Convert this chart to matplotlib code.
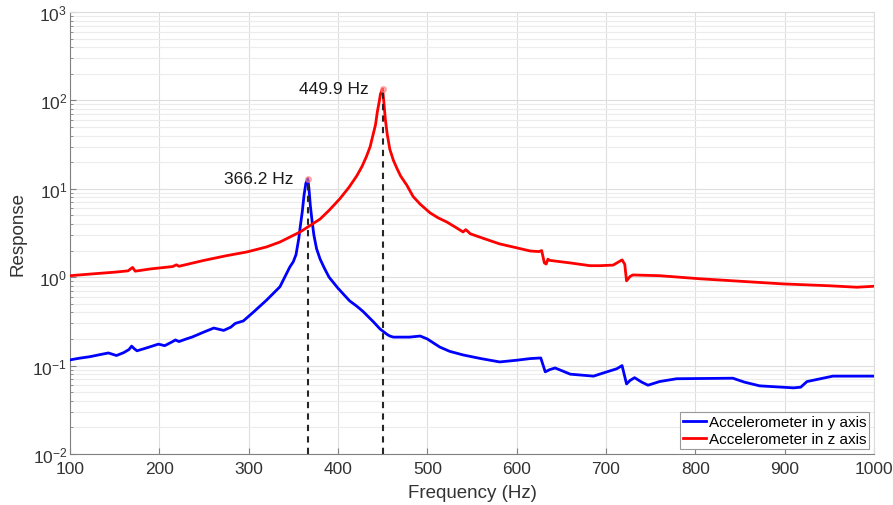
import numpy as np
import matplotlib.pyplot as plt
from matplotlib.ticker import LogLocator, NullFormatter

plt.rcParams['font.family'] = ['Liberation Sans', 'DejaVu Sans']
plt.rcParams['font.size'] = 12

# accelerometer in y axis
freq_y = [100, 110, 122, 135, 143, 152, 160, 166, 169, 172, 175, 187, 199, 206,
          214, 218, 222, 230, 237, 250, 261, 272, 280, 285, 294, 305, 320, 335,
          346, 350, 353, 356, 358, 360, 362, 364, 366.2, 367.5, 369, 371, 373,
          376, 380, 385, 390, 400, 413, 421, 428, 440, 447, 455, 458, 462, 480,
          492, 500, 514, 525, 540, 560, 581, 600, 615, 627, 632, 637, 643, 650,
          660, 686, 701, 712, 718, 723, 727, 732, 740, 747, 760, 779, 842, 855,
          872, 910, 918, 925, 954, 998, 1000]
resp_y = [0.116, 0.121, 0.126, 0.134, 0.139, 0.130, 0.140, 0.152, 0.166, 0.155,
          0.147, 0.160, 0.175, 0.168, 0.185, 0.195, 0.187, 0.200, 0.211, 0.240,
          0.266, 0.250, 0.272, 0.300, 0.320, 0.40, 0.55, 0.78, 1.3, 1.5, 1.8,
          2.7, 3.9, 5.5, 8.5, 11.5, 13.0, 10.0, 6.5, 4.3, 3.0, 2.1, 1.6, 1.25,
          1.0, 0.75, 0.54, 0.47, 0.41, 0.31, 0.26, 0.225, 0.216, 0.21, 0.21,
          0.216, 0.20, 0.162, 0.145, 0.132, 0.12, 0.11, 0.115, 0.12, 0.122,
          0.085, 0.09, 0.094, 0.088, 0.080, 0.076, 0.085, 0.092, 0.10, 0.062,
          0.068, 0.073, 0.065, 0.060, 0.066, 0.071, 0.072, 0.065, 0.059, 0.056,
          0.057, 0.066, 0.076, 0.076, 0.076]

# accelerometer in z axis
freq_z = [100, 130, 150, 165, 170, 173, 190, 215, 219, 222, 250, 275, 298, 320,
          335, 357.6, 380, 390, 402, 412, 421, 427, 432, 436, 439, 442, 444, 446,
          447.5, 449.9, 451, 453, 455, 458, 462, 466, 470, 477, 484, 492, 503,
          512, 522, 532, 540, 543, 546, 548, 565, 581, 600, 615, 625, 628, 631,
          633, 635, 637, 660, 682, 693, 708, 718, 721, 723, 727, 730, 760, 805,
          850, 898, 950, 981, 1000]
resp_z = [1.04, 1.10, 1.14, 1.18, 1.29, 1.17, 1.24, 1.32, 1.38, 1.33, 1.55, 1.75,
          1.93, 2.2, 2.5, 3.25, 4.55, 5.7, 7.7, 10.3, 14, 18, 23.4, 30, 40, 53,
          74, 95, 118, 135, 104, 61, 42, 28, 21, 17, 14, 11.0, 8.2, 6.7, 5.35,
          4.7, 4.2, 3.65, 3.25, 3.45, 3.25, 3.1, 2.7, 2.38, 2.15, 1.98, 1.95,
          2.0, 1.45, 1.41, 1.6, 1.55, 1.45, 1.35, 1.35, 1.37, 1.57, 1.4, 0.91,
          1.02, 1.06, 1.04, 0.96, 0.9, 0.84, 0.8, 0.77, 0.79]

peak_freq = [366.2, 449.9]
peak_resp = [13.0, 135]
peak_text = ['366.2 Hz', '449.9 Hz']

fig = plt.figure(figsize=(8.93, 5.06), dpi=100)
ax = fig.add_axes([0.0784, 0.1008, 0.9003, 0.8735])

ax.plot(freq_y, resp_y, color='#0000ff', lw=2, label='Accelerometer in y axis', zorder=3)
ax.plot(freq_z, resp_z, color='#ff0000', lw=2, label='Accelerometer in z axis', zorder=3)

for f, r, t in zip(peak_freq, peak_resp, peak_text):
    ax.plot([f, f], [1e-2, r], color='#262626', lw=1.5, ls=(0, (3, 2.5)), zorder=4)
    ax.plot(f, r, 'o', ms=4, color='#ff8080', alpha=0.6, zorder=5)
    ax.annotate(t, (f, r), xytext=(-10, 0), textcoords='offset points',
                ha='right', va='center', fontsize=12.5, color='#1a1a1a')

ax.set_yscale('log')
ax.set_xlim(100, 1000)
ax.set_ylim(1e-2, 1e3)
ax.set_xticks(np.arange(100, 1001, 100))
ax.yaxis.set_major_locator(LogLocator(base=10, numticks=10))
ax.yaxis.set_minor_locator(LogLocator(base=10, subs=np.arange(2, 10), numticks=10))
ax.yaxis.set_minor_formatter(NullFormatter())

ax.grid(True, which='major', color='#dedede', lw=0.8)
ax.grid(True, which='minor', axis='y', color='#ececec', lw=0.8)
ax.set_axisbelow(True)

ax.tick_params(which='both', direction='in', colors='#808080', labelcolor='#333333',
               labelsize=12.5)
ax.tick_params(which='major', length=4)
ax.tick_params(which='minor', length=2)
ax.tick_params(axis='x', pad=5)
ax.tick_params(axis='y', pad=2)
for side in ['left', 'bottom']:
    ax.spines[side].set_color('#808080')
for side in ['top', 'right']:
    ax.spines[side].set_color('#dcdcdc')

ax.set_xlabel('Frequency (Hz)', fontsize=13.5, color='#333333', labelpad=6)
ax.set_ylabel('Response', fontsize=13.5, color='#333333', labelpad=4)

leg = ax.legend(loc='lower right', fontsize=11, handlelength=1.5, handletextpad=0.2,
                labelspacing=0.2, borderpad=0.2, borderaxespad=0.3,
                fancybox=False, framealpha=1, edgecolor='#999999')
leg.get_frame().set_linewidth(0.8)

fig.savefig('out.png', dpi=100)
